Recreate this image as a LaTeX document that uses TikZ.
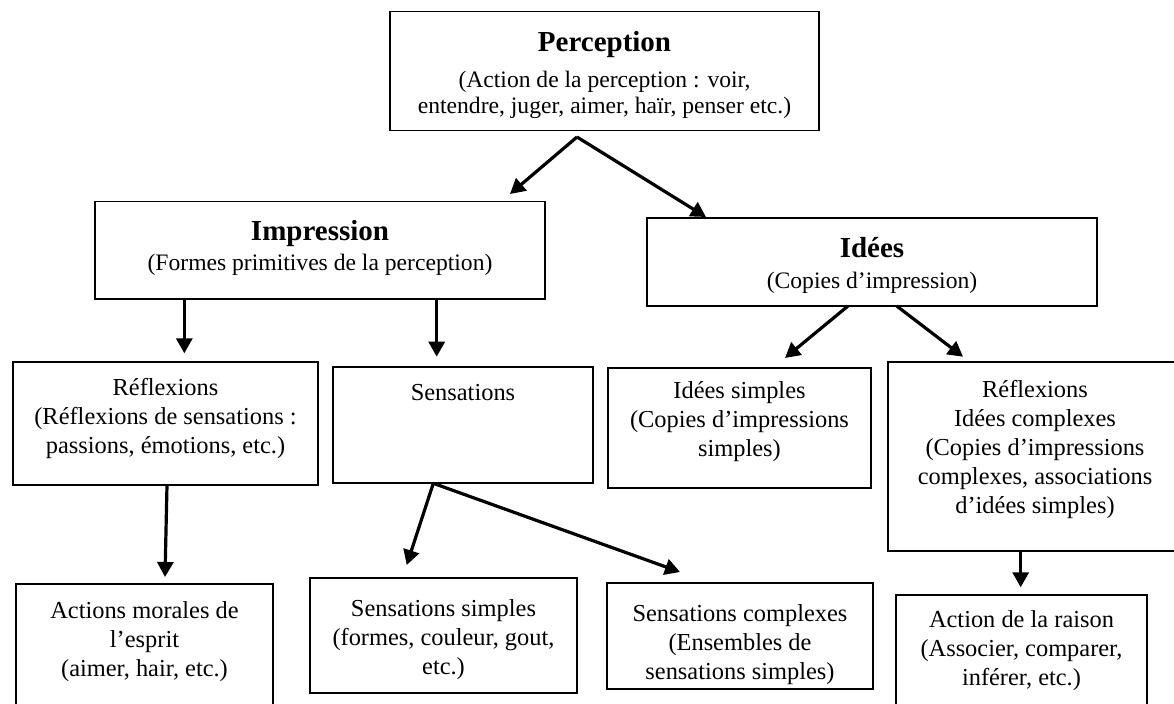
\documentclass[tikz,border=0pt]{standalone}
\usepackage{fontspec}
\setmainfont{Liberation Serif}
\usetikzlibrary{arrows.meta}
\newcommand\boxhead[1]{{\fontsize{14.5pt}{14.5pt}\selectfont\bfseries #1}}
\newcommand\firstline[1]{\rule{0pt}{#1}}
\begin{document}
\begin{tikzpicture}[x=0.5pt,y=-0.5pt,
  box/.style={draw=black, line width=0.65pt, rectangle, anchor=north west, inner sep=0pt, outer sep=0pt},
  txtA/.style={anchor=north, align=center, inner sep=0pt, font=\fontsize{11.8pt}{13pt}\selectfont},
  txtB/.style={anchor=north, align=center, inner sep=0pt, font=\fontsize{12.2pt}{14.5pt}\selectfont},
  arr/.style={-{Triangle[length=7.5pt,width=8pt]}, line width=1.6pt},
]
\useasboundingbox (0,0) rectangle (1174,703);
\fill[white] (0,0) rectangle (1174,703);
\clip (0,0) rectangle (1174,703);

% boxes
\node[box, minimum width=214.5pt, minimum height=59.5pt] (perc) at (390,11.7) {};
\node[box, minimum width=225pt, minimum height=48.65pt] (imp) at (95,201.7) {};
\node[box, minimum width=225pt, minimum height=44pt] (ide) at (647,218) {};
\node[box, minimum width=152.5pt, minimum height=61.5pt] (refl) at (13,362) {};
\node[box, minimum width=130pt, minimum height=58pt] (sens) at (333,367) {};
\node[box, minimum width=131.5pt, minimum height=60pt] (ids) at (608,368) {};
\node[box, minimum width=147pt, minimum height=94.5pt] (refr) at (888,362) {};
\node[box, minimum width=128.5pt, minimum height=66pt] (act) at (16,584) {};
\node[box, minimum width=133.5pt, minimum height=57.5pt] (ssim) at (310,578) {};
\node[box, minimum width=133pt, minimum height=53pt] (scom) at (607,583) {};
\node[box, minimum width=125.5pt, minimum height=62pt] (ar) at (896,595) {};

% texts
\node[txtA] (percT) at (perc.north) {\firstline{19.5pt}\boxhead{Perception}\\[5.3pt](Action de la perception : voir,\\entendre, juger, aimer, haïr, penser etc.)};
\node[txtA] (impT) at (imp.north) {\firstline{19.15pt}\boxhead{Impression}\\[2pt](Formes primitives de la perception)};
\node[txtA] (ideT) at (ide.north) {\firstline{19.35pt}\boxhead{Idées}\\[2.8pt](Copies d’impression)};
\node[txtB] (reflT) at (refl.north) {\firstline{16.5pt}Réflexions\\(Réflexions de sensations :\\passions, émotions, etc.)};
\node[txtB] (sensT) at (sens.north) {\firstline{16.65pt}Sensations};
\node[txtB] (idsT) at (ids.north) {\firstline{15pt}Idées simples\\(Copies d’impressions\\simples)};
\node[txtB] (refrT) at (refr.north) {\firstline{17.5pt}Réflexions\\Idées complexes\\(Copies d’impressions\\complexes, associations\\d’idées simples)};
\node[txtB] (actT) at (act.north) {\firstline{17pt}Actions morales de\\l’esprit\\(aimer, hair, etc.)};
\node[txtB] (ssimT) at (ssim.north) {\firstline{19pt}Sensations simples\\(formes, couleur, gout,\\etc.)};
\node[txtB] (scomT) at (scom.north) {\firstline{19pt}Sensations complexes\\(Ensembles de\\sensations simples)};
\node[txtB] (arT) at (ar.north) {\firstline{15.85pt}Action de la raison\\(Associer, comparer,\\inférer, etc.)};

% connector ends
\coordinate (p0) at (577,137);
\coordinate (impIn) at (510,194);
\coordinate (ideIn) at (706,217);
\coordinate (impL) at (184.3,299);
\coordinate (reflIn) at (184.3,353.3);
\coordinate (impR) at (436.7,299);
\coordinate (sensIn) at (436.7,356.7);
\coordinate (ideL) at (848,306);
\coordinate (idsIn) at (785,358);
\coordinate (ideR) at (896.7,306);
\coordinate (refrIn) at (963,356.7);
\coordinate (reflOut) at (167,485);
\coordinate (actIn) at (165,577);
\coordinate (sensOut) at (433.3,483.3);
\coordinate (ssimIn) at (406.7,565);
\coordinate (scomIn) at (680,572);
\coordinate (refrOut) at (1020.7,551);
\coordinate (arIn) at (1020.7,587.3);

\draw[arr] (p0) -- (impIn);
\draw[arr] (p0) -- (ideIn);
\draw[arr] (impL) -- (reflIn);
\draw[arr] (impR) -- (sensIn);
\draw[arr] (ideL) -- (idsIn);
\draw[arr] (ideR) -- (refrIn);
\draw[arr] (reflOut) -- (actIn);
\draw[arr] (sensOut) -- (ssimIn);
\draw[arr] (sensOut) -- (scomIn);
\draw[arr] (refrOut) -- (arIn);
\end{tikzpicture}
\end{document}
